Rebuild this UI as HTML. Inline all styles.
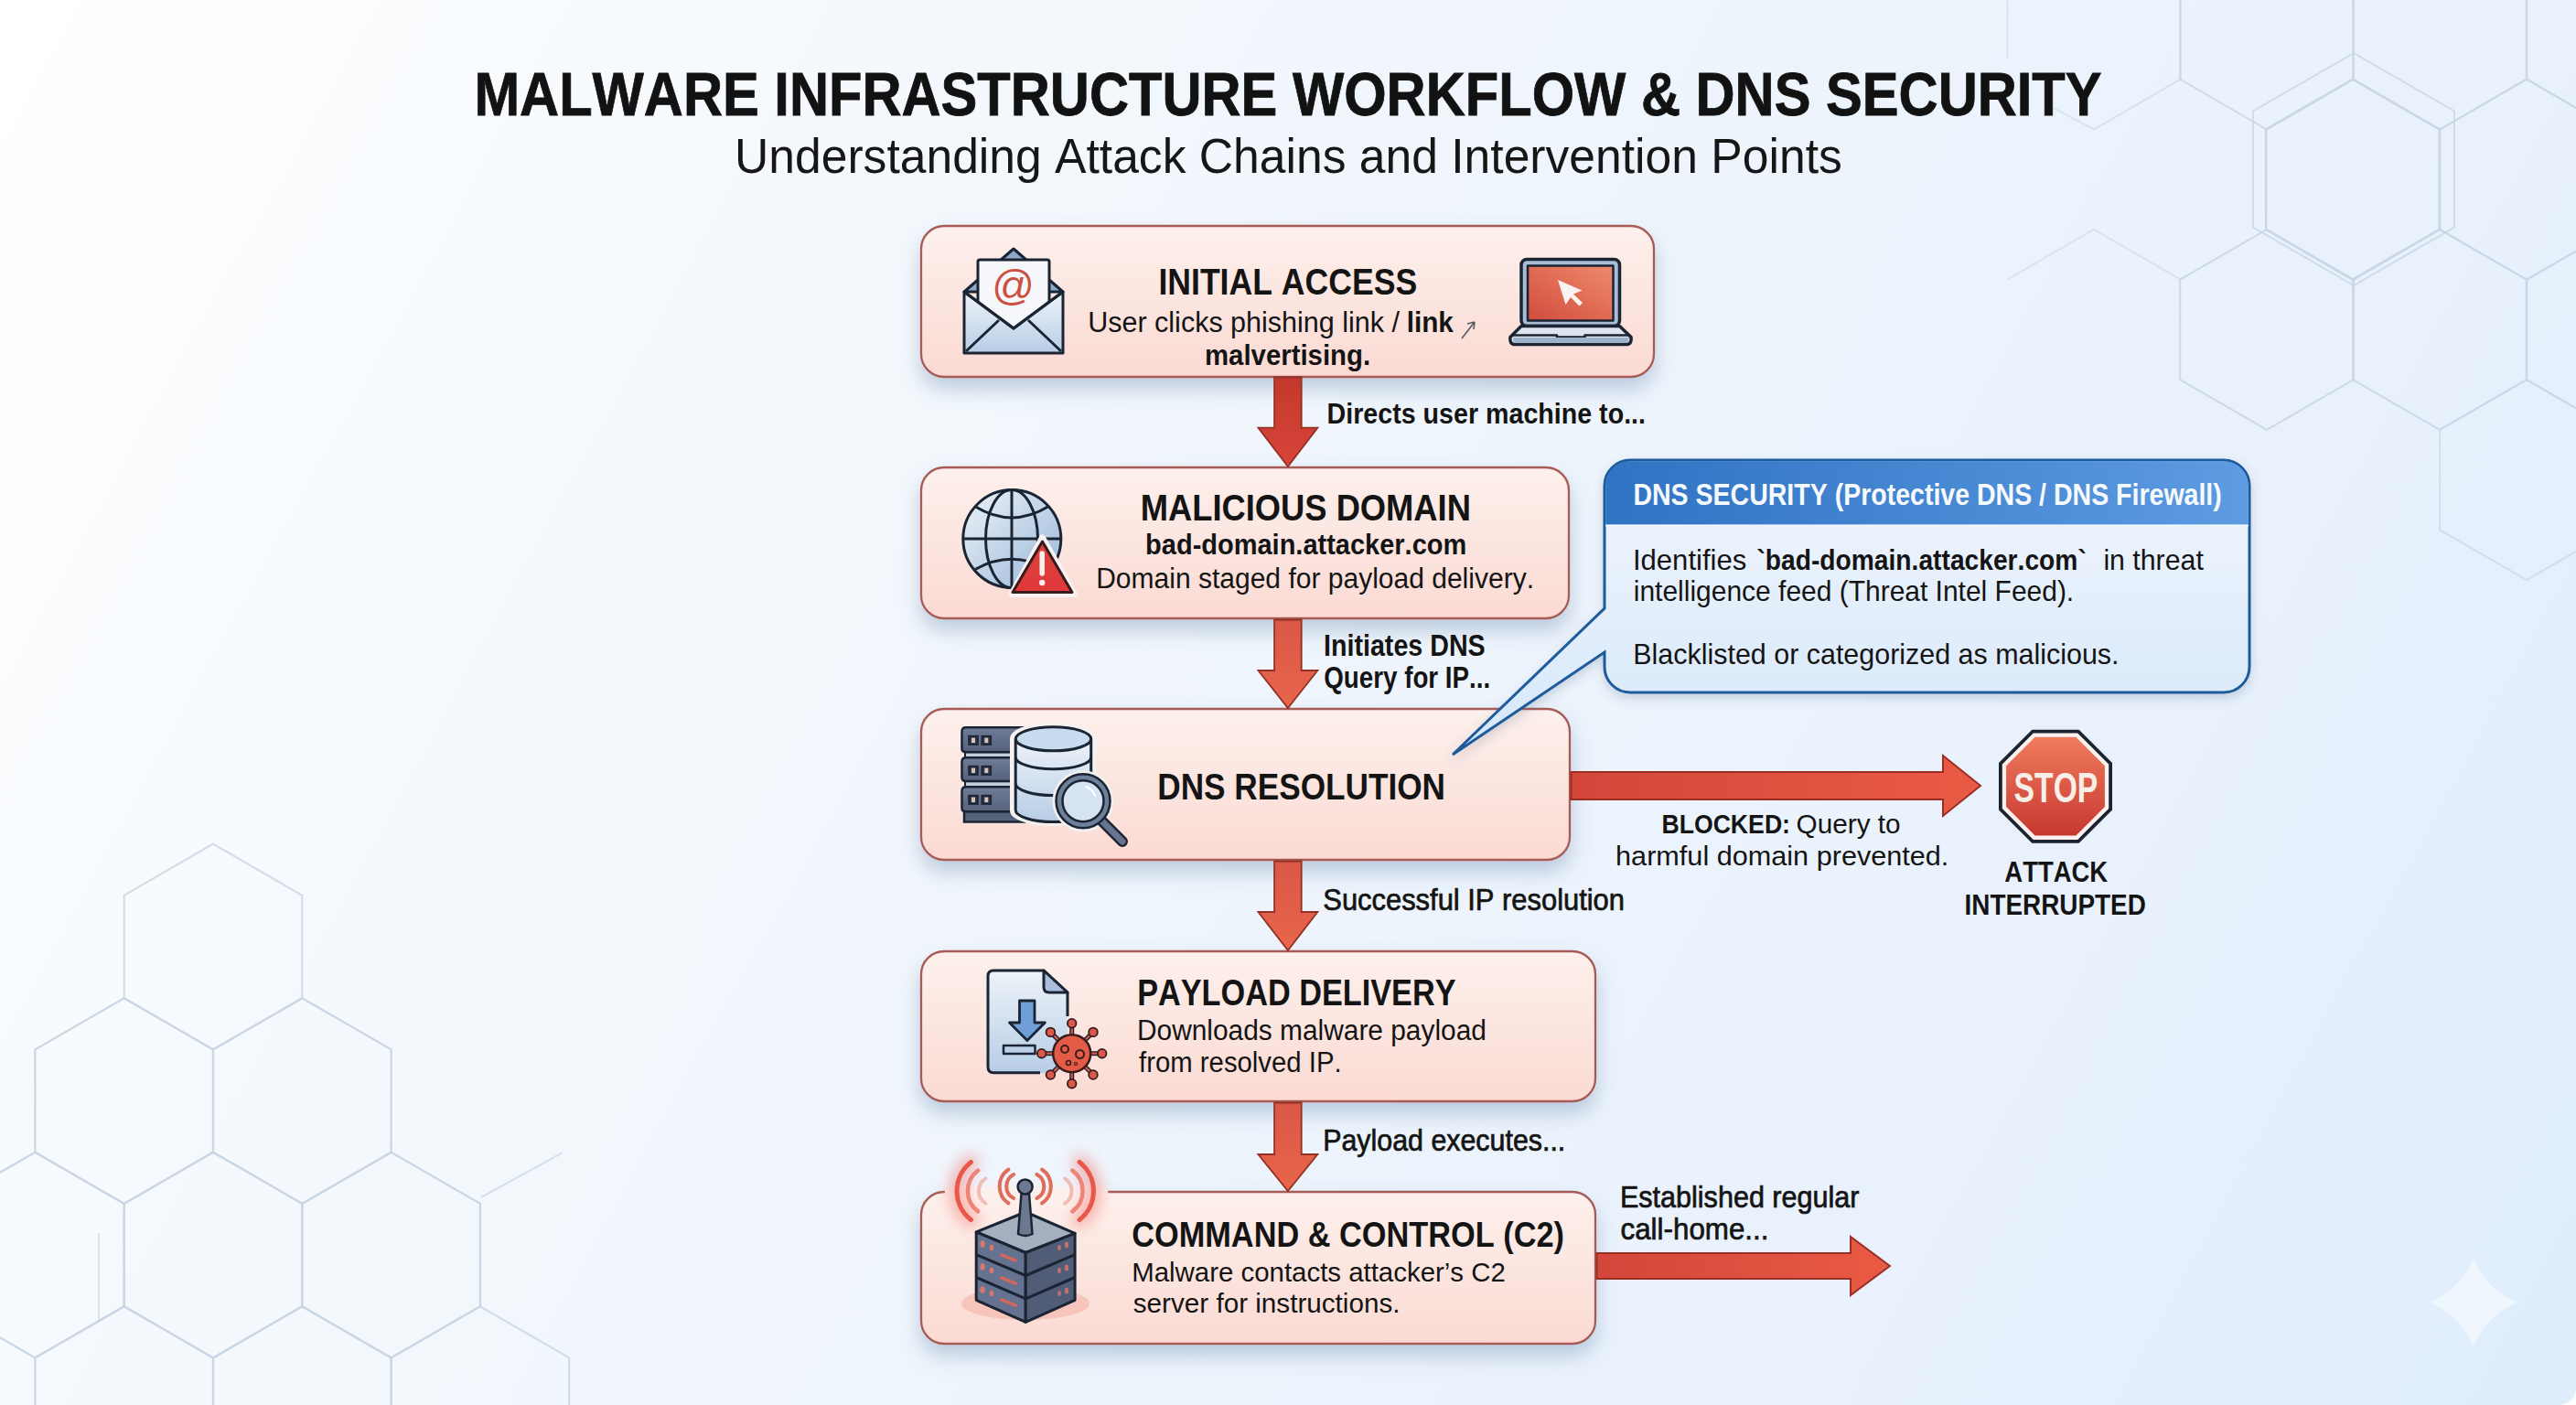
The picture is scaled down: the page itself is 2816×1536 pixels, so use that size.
<!DOCTYPE html>
<html><head><meta charset="utf-8">
<style>
html,body{margin:0;padding:0;width:2816px;height:1536px;overflow:hidden;background:#ffffff}
svg{display:block}
text{font-family:"Liberation Sans",sans-serif;font-kerning:none}
</style></head>
<body>
<svg width="2816" height="1536" viewBox="0 0 2816 1536">
<defs>
  <linearGradient id="bg" x1="0" y1="0" x2="2816" y2="1536" gradientUnits="userSpaceOnUse">
    <stop offset="0" stop-color="#ffffff"/>
    <stop offset="0.25" stop-color="#f5f9fd"/>
    <stop offset="0.5" stop-color="#eff5fc"/>
    <stop offset="0.77" stop-color="#e8f1fc"/>
    <stop offset="1" stop-color="#dfedfc"/>
  </linearGradient>
  <linearGradient id="boxfill" x1="0" y1="0" x2="0" y2="1">
    <stop offset="0" stop-color="#fdf0ec"/>
    <stop offset="1" stop-color="#fbdad3"/>
  </linearGradient>
  <linearGradient id="arrowV1" x1="0" y1="0" x2="0" y2="1">
    <stop offset="0" stop-color="#c3392c"/>
    <stop offset="1" stop-color="#d8443a"/>
  </linearGradient>
  <linearGradient id="arrowV" x1="0" y1="0" x2="0" y2="1">
    <stop offset="0" stop-color="#d95846"/>
    <stop offset="1" stop-color="#e9654c"/>
  </linearGradient>
  <linearGradient id="arrowH" x1="0" y1="0" x2="1" y2="0">
    <stop offset="0" stop-color="#d2473a"/>
    <stop offset="1" stop-color="#ea5b45"/>
  </linearGradient>
  <linearGradient id="calloutHead" x1="0" y1="0" x2="1" y2="0">
    <stop offset="0" stop-color="#2f73c3"/>
    <stop offset="1" stop-color="#5d9be2"/>
  </linearGradient>
  <linearGradient id="calloutBody" x1="0" y1="0" x2="0" y2="1">
    <stop offset="0" stop-color="#f1f6fd"/>
    <stop offset="1" stop-color="#d6e7fa"/>
  </linearGradient>
  <linearGradient id="stopFill" x1="0" y1="0" x2="0" y2="1">
    <stop offset="0" stop-color="#f07c5e"/>
    <stop offset="1" stop-color="#c6382f"/>
  </linearGradient>
  <linearGradient id="screenFill" x1="1" y1="0" x2="0" y2="1">
    <stop offset="0" stop-color="#ee8a6a"/>
    <stop offset="1" stop-color="#d24c3e"/>
  </linearGradient>
  <linearGradient id="iconBlue" x1="0" y1="0" x2="0" y2="1">
    <stop offset="0" stop-color="#eef3f9"/>
    <stop offset="1" stop-color="#b7cde6"/>
  </linearGradient>
  <linearGradient id="globeFill" x1="0" y1="0" x2="1" y2="1">
    <stop offset="0" stop-color="#eef3f8"/>
    <stop offset="1" stop-color="#97b6d8"/>
  </linearGradient>
  <linearGradient id="warnFill" x1="0" y1="0" x2="0" y2="1">
    <stop offset="0" stop-color="#d9423c"/>
    <stop offset="1" stop-color="#e1383a"/>
  </linearGradient>
  <linearGradient id="slate" x1="0" y1="0" x2="0" y2="1">
    <stop offset="0" stop-color="#6f7c97"/>
    <stop offset="1" stop-color="#56627b"/>
  </linearGradient>
  <radialGradient id="c2glow" cx="0.5" cy="0.5" r="0.5">
    <stop offset="0" stop-color="#f27a6c" stop-opacity="0.55"/>
    <stop offset="1" stop-color="#f27a6c" stop-opacity="0"/>
  </radialGradient>
  <filter id="shadow" x="-10%" y="-20%" width="120%" height="170%">
    <feGaussianBlur in="SourceAlpha" stdDeviation="11"/>
    <feOffset dx="0" dy="12" result="b"/>
    <feFlood flood-color="#5577a3" flood-opacity="0.34"/>
    <feComposite in2="b" operator="in"/>
    <feMerge><feMergeNode/><feMergeNode in="SourceGraphic"/></feMerge>
  </filter>
  <filter id="softshadow" x="-10%" y="-20%" width="120%" height="160%">
    <feGaussianBlur in="SourceAlpha" stdDeviation="6"/>
    <feOffset dx="0" dy="5" result="b"/>
    <feFlood flood-color="#4f6688" flood-opacity="0.25"/>
    <feComposite in2="b" operator="in"/>
    <feMerge><feMergeNode/><feMergeNode in="SourceGraphic"/></feMerge>
  </filter>
  <filter id="glow" x="-30%" y="-30%" width="160%" height="160%">
    <feGaussianBlur in="SourceGraphic" stdDeviation="4" result="g"/>
    <feMerge><feMergeNode in="g"/><feMergeNode in="SourceGraphic"/></feMerge>
  </filter>
  <filter id="blur8" x="-50%" y="-50%" width="200%" height="200%"><feGaussianBlur stdDeviation="8"/></filter>
  <filter id="blur3" x="-50%" y="-50%" width="200%" height="200%"><feGaussianBlur stdDeviation="3"/></filter>
</defs>

<rect x="0" y="0" width="2816" height="1536" fill="url(#bg)"/>
<g fill="none" stroke="#c9d6e5" stroke-width="2">
<path d="M2383.8 -22.7 L2383.8 86.7 M2383.8 86.7 L2289.0 141.5 " stroke-opacity="0.60" stroke-width="2.0"/>
<path d="M2194.5 0 L2194.5 65 M2245 118 L2289 141.5" stroke-opacity="0.5"/>
<path d="M2478.0 -77.5L2572.8 -22.7L2572.8 86.7L2478.0 141.5L2383.2 86.7L2383.2 -22.7Z" stroke-opacity="0.80" stroke-width="2.0"/>
<path d="M2667.0 -77.5L2761.8 -22.7L2761.8 86.7L2667.0 141.5L2572.2 86.7L2572.2 -22.7Z" stroke-opacity="0.80" stroke-width="2.0"/>
<path d="M2857.0 -77.5L2951.8 -22.7L2951.8 86.7L2857.0 141.5L2762.2 86.7L2762.2 -22.7Z" stroke-opacity="0.80" stroke-width="2.0"/>
<path d="M2572.0 86.7L2666.8 141.5L2666.8 250.9L2572.0 305.7L2477.2 250.9L2477.2 141.5Z" stroke-opacity="1.00" stroke-width="2.5"/>
<path d="M2762.0 86.7L2856.8 141.5L2856.8 250.9L2762.0 305.7L2667.2 250.9L2667.2 141.5Z" stroke-opacity="0.90" stroke-width="2.0"/>
<path d="M2194.2 305.7 L2289.0 250.9 M2289.0 250.9 L2383.8 305.7 " stroke-opacity="0.50" stroke-width="2.0"/>
<path d="M2478.0 250.9L2572.8 305.7L2572.8 415.1L2478.0 469.9L2383.2 415.1L2383.2 305.7Z" stroke-opacity="0.90" stroke-width="2.0"/>
<path d="M2667.0 250.9L2761.8 305.7L2761.8 415.1L2667.0 469.9L2572.2 415.1L2572.2 305.7Z" stroke-opacity="0.90" stroke-width="2.0"/>
<path d="M2857.0 250.9L2951.8 305.7L2951.8 415.1L2857.0 469.9L2762.2 415.1L2762.2 305.7Z" stroke-opacity="0.80" stroke-width="2.0"/>
<path d="M2762.0 415.1L2856.8 469.9L2856.8 579.3L2762.0 634.1L2667.2 579.3L2667.2 469.9Z" stroke-opacity="0.70" stroke-width="2.0"/>
<path d="M2573.0 58.0L2683.0 121.5L2683.0 248.5L2573.0 312.0L2463.0 248.5L2463.0 121.5Z" stroke-opacity="0.8" stroke-width="2"/>
<path d="M233.0 922.6L330.3 978.8L330.3 1091.2L233.0 1147.4L135.7 1091.2L135.7 978.8Z" stroke-opacity="0.80" stroke-width="2.2"/>
<path d="M135.7 1091.2L233.0 1147.4L233.0 1259.7L135.7 1315.9L38.4 1259.7L38.4 1147.4Z" stroke-opacity="1.00" stroke-width="2.2"/>
<path d="M330.3 1091.2L427.6 1147.4L427.6 1259.7L330.3 1315.9L233.0 1259.7L233.0 1147.4Z" stroke-opacity="1.00" stroke-width="2.2"/>
<path d="M38.4 1259.7L135.7 1315.9L135.7 1428.2L38.4 1484.4L-58.9 1428.2L-58.9 1315.9Z" stroke-opacity="1.00" stroke-width="2.2"/>
<path d="M233.0 1259.7L330.3 1315.9L330.3 1428.2L233.0 1484.4L135.7 1428.2L135.7 1315.9Z" stroke-opacity="1.00" stroke-width="2.2"/>
<path d="M427.6 1259.7L524.9 1315.9L524.9 1428.2L427.6 1484.4L330.3 1428.2L330.3 1315.9Z" stroke-opacity="1.00" stroke-width="2.2"/>
<path d="M135.7 1428.2L233.0 1484.4L233.0 1596.8L135.7 1652.9L38.4 1596.8L38.4 1484.4Z" stroke-opacity="1.00" stroke-width="2.2"/>
<path d="M330.3 1428.2L427.6 1484.4L427.6 1596.8L330.3 1652.9L233.0 1596.8L233.0 1484.4Z" stroke-opacity="1.00" stroke-width="2.2"/>
<path d="M524.9 1428.2L622.2 1484.4L622.2 1596.8L524.9 1652.9L427.6 1596.8L427.6 1484.4Z" stroke-opacity="0.80" stroke-width="2.2"/>
<path d="M526 1309 L615 1260" stroke-opacity="0.7"/>
<path d="M108 1348 L108 1445" stroke-opacity="0.6"/>
</g>
<g filter="url(#shadow)"><rect x="1007" y="247" width="801" height="165" rx="25" fill="url(#boxfill)" stroke="#a65b55" stroke-width="2.3"/><rect x="1007" y="511" width="708" height="165" rx="25" fill="url(#boxfill)" stroke="#a65b55" stroke-width="2.3"/><rect x="1007" y="775" width="709" height="165" rx="25" fill="url(#boxfill)" stroke="#a65b55" stroke-width="2.3"/><rect x="1007" y="1040" width="737" height="164" rx="25" fill="url(#boxfill)" stroke="#a65b55" stroke-width="2.3"/><rect x="1007" y="1303" width="737" height="166" rx="25" fill="url(#boxfill)" stroke="#a65b55" stroke-width="2.3"/></g>
<path d="M1393.1000000000001 412.5 L1422.7 412.5 L1422.7 467.6 L1440.4 467.6 L1407.9 510 L1375.4 467.6 L1393.1000000000001 467.6 Z" fill="url(#arrowV1)" stroke="#923126" stroke-width="1.8" stroke-linejoin="miter"/><path d="M1393.1000000000001 677.5 L1422.7 677.5 L1422.7 733 L1440.4 733 L1407.9 774 L1375.4 733 L1393.1000000000001 733 Z" fill="url(#arrowV)" stroke="#923126" stroke-width="1.8" stroke-linejoin="miter"/><path d="M1393.1000000000001 941.5 L1422.7 941.5 L1422.7 997 L1440.4 997 L1407.9 1039 L1375.4 997 L1393.1000000000001 997 Z" fill="url(#arrowV)" stroke="#923126" stroke-width="1.8" stroke-linejoin="miter"/><path d="M1393.1000000000001 1205.5 L1422.7 1205.5 L1422.7 1262 L1440.4 1262 L1407.9 1302 L1375.4 1262 L1393.1000000000001 1262 Z" fill="url(#arrowV)" stroke="#923126" stroke-width="1.8" stroke-linejoin="miter"/><path d="M1717.5 844.0 L2124 844.0 L2124 826.0 L2165 859 L2124 892.0 L2124 874.0 L1717.5 874.0 Z" fill="url(#arrowH)" stroke="#9b2e24" stroke-width="2" stroke-linejoin="miter"/><path d="M1745.5 1370.0 L2023 1370.0 L2023 1352.0 L2066 1384 L2023 1416.0 L2023 1398.0 L1745.5 1398.0 Z" fill="url(#arrowH)" stroke="#9b2e24" stroke-width="2" stroke-linejoin="miter"/>

<g filter="url(#softshadow)">
<path d="M1782 503 H2431 A28 28 0 0 1 2459 531 V729 A28 28 0 0 1 2431 757 H1782 A28 28 0 0 1 1754 729 V713 L1588 825 L1754 665 V531 A28 28 0 0 1 1782 503 Z" fill="url(#calloutBody)" stroke="#1f5c9c" stroke-width="3" stroke-linejoin="miter"/>
</g>
<path d="M1782 504.3 H2431 A26.7 26.7 0 0 1 2457.7 531 V573.5 H1755.3 V531 A26.7 26.7 0 0 1 1782 504.3 Z" fill="url(#calloutHead)"/>
<line x1="1755" y1="574.5" x2="2458" y2="574.5" stroke="#f4f8fd" stroke-width="1.5"/>


<g>
<polygon points="2221.3,797.7 2272.7,797.7 2309,834 2309,885.4 2272.7,921.7 2221.3,921.7 2185,885.4 2185,834" fill="#1b2230"/>
<polygon points="2222.8,801.5 2271.2,801.5 2305.2,835.5 2305.2,883.9 2271.2,917.9 2222.8,917.9 2188.8,883.9 2188.8,835.5" fill="#fbf1ee"/>
<polygon points="2224.6,805.8 2269.4,805.8 2300.9,837.3 2300.9,882.1 2269.4,913.6 2224.6,913.6 2193.1,882.1 2193.1,837.3" fill="url(#stopFill)"/>
</g>


<g id="email" stroke="#1a2433" stroke-width="3" stroke-linejoin="round">
  <path d="M1054 319 L1108 272 L1162 319 Z" fill="#8eaacb"/>
  <rect x="1069" y="284" width="78" height="80" rx="2" fill="#f6f7fa"/>
  <text x="1107.5" y="328" font-size="46" fill="#cc5040" stroke="none" text-anchor="middle">@</text>
  <path d="M1054 319 L1108 359 L1162 319 L1162 386 L1054 386 Z" fill="url(#iconBlue)"/>
  <path d="M1056 384 L1092 350 M1160 384 L1124 350" fill="none"/>
  <path d="M1054 319 L1108 359 L1162 319" fill="none"/>
</g>
<g id="laptop" stroke="#1a2433" stroke-linejoin="round">
  <rect x="1663" y="283.5" width="107.5" height="73" rx="6" fill="#a8bdd5" stroke-width="3.5"/>
  <rect x="1670" y="290.5" width="93.5" height="60" fill="url(#screenFill)" stroke-width="2.5"/>
  <path d="M1703 306 L1729.5 317.5 L1720 321.5 L1730 331 L1726.5 334.5 L1717 325 L1711.5 333 Z" fill="#fbf3ef" stroke="none"/>
  <path d="M1663 356.5 L1770.5 356.5 L1783 368.5 Q1784 376.5 1778 376.5 L1656 376.5 Q1650 376.5 1651 368.5 Z" fill="#dfe5ee" stroke-width="3.5"/>
  <path d="M1652 366.5 L1702 366.5 L1702 368.5 L1732.5 368.5 L1732.5 366.5 L1782 366.5" fill="none" stroke-width="2.5"/>
  <path d="M1654 369 L1781 369 L1779 375 L1655 375 Z" fill="#9cb2cb" stroke="none"/>
</g>
<g id="globe" stroke="#1a2433" fill="none" stroke-width="3">
  <circle cx="1106.3" cy="589.1" r="53.5" fill="url(#globeFill)"/>
  <line x1="1106" y1="535.6" x2="1106" y2="642.6"/>
  <line x1="1052.8" y1="589" x2="1159.8" y2="589"/>
  <ellipse cx="1106" cy="589.1" rx="28.5" ry="53.5"/>
  <path d="M1066 553.8 Q1106 578 1146 553.8"/>
  <path d="M1066 622.5 Q1106 600 1146 622.5"/>
  <path d="M1139.5 588 L1174.5 649.5 L1106 649.5 Z" fill="#f7f3f3" stroke="#f7f3f3" stroke-width="7" stroke-linejoin="round"/>
  <path d="M1139.5 592 L1172 647.5 L1107 647.5 Z" fill="url(#warnFill)" stroke="#3a1b1d" stroke-width="3" stroke-linejoin="round"/>
  <path d="M1139.2 605 L1139.2 627" stroke="#fbeeee" stroke-width="5.5" stroke-linecap="round"/>
  <circle cx="1139.2" cy="637" r="3.2" fill="#fbeeee" stroke="none"/>
</g>
<g id="dns">
  <rect x="1054" y="887" width="66" height="11.5" fill="#566279" stroke="#1a2433" stroke-width="2.5"/>
  <rect x="1055" y="822.2" width="65" height="6.1" fill="#c3cedc" stroke="#1a2433" stroke-width="2"/><rect x="1055" y="854.1" width="65" height="6.1" fill="#c3cedc" stroke="#1a2433" stroke-width="2"/>
  <path d="M1120 795.3 L1056 795.3 Q1051.5 795.3 1051.5 799.8 L1051.5 818.2 Q1051.5 822.2 1056 822.2 L1120 822.2" fill="url(#slate)" stroke="#1a2433" stroke-width="2.5"/><rect x="1059" y="804.6" width="10" height="9.5" fill="#2b3345" stroke="#1a2433" stroke-width="1.5"/><rect x="1062" y="806.6" width="4" height="5.5" fill="#d8c3b8" stroke="none"/><rect x="1073.3" y="804.6" width="10" height="9.5" fill="#2b3345" stroke="#1a2433" stroke-width="1.5"/><rect x="1076.3" y="806.6" width="4" height="5.5" fill="#d8c3b8" stroke="none"/><path d="M1120 828.3 L1056 828.3 Q1051.5 828.3 1051.5 832.8 L1051.5 850.1 Q1051.5 854.1 1056 854.1 L1120 854.1" fill="url(#slate)" stroke="#1a2433" stroke-width="2.5"/><rect x="1059" y="837.6" width="10" height="9.5" fill="#2b3345" stroke="#1a2433" stroke-width="1.5"/><rect x="1062" y="839.6" width="4" height="5.5" fill="#d8c3b8" stroke="none"/><rect x="1073.3" y="837.6" width="10" height="9.5" fill="#2b3345" stroke="#1a2433" stroke-width="1.5"/><rect x="1076.3" y="839.6" width="4" height="5.5" fill="#d8c3b8" stroke="none"/><path d="M1120 860.3 L1056 860.3 Q1051.5 860.3 1051.5 864.8 L1051.5 883.2 Q1051.5 887.2 1056 887.2 L1120 887.2" fill="url(#slate)" stroke="#1a2433" stroke-width="2.5"/><rect x="1059" y="869.6" width="10" height="9.5" fill="#2b3345" stroke="#1a2433" stroke-width="1.5"/><rect x="1062" y="871.6" width="4" height="5.5" fill="#d8c3b8" stroke="none"/><rect x="1073.3" y="869.6" width="10" height="9.5" fill="#2b3345" stroke="#1a2433" stroke-width="1.5"/><rect x="1076.3" y="871.6" width="4" height="5.5" fill="#d8c3b8" stroke="none"/>
  <path d="M1106 807.8 L1106 886 A45 15 0 0 0 1196.7 886 L1196.7 807.8 A45 16 0 0 0 1106 807.8 Z" fill="#f4f1f0" stroke="#f4f1f0" stroke-width="4"/>
  <path d="M1110.2 807.8 L1110.2 885.5 A41.2 13 0 0 0 1192.7 885.5 L1192.7 807.8" fill="url(#iconBlue)" stroke="#1a2433" stroke-width="3"/>
  <path d="M1110.2 827.7 A41.2 13 0 0 0 1192.7 827.7 M1110.2 856.6 A41.2 13 0 0 0 1192.7 856.6" fill="none" stroke="#1a2433" stroke-width="3"/>
  <ellipse cx="1151.5" cy="807.8" rx="41.2" ry="13" fill="#c7dcef" stroke="#1a2433" stroke-width="3"/>
  <circle cx="1184" cy="875.8" r="33.5" fill="#f4f1f1" stroke="none"/>
  <path d="M1203 896 L1227 920" stroke="#1a2433" stroke-width="12" stroke-linecap="round"/>
  <path d="M1203 896 L1227 920" stroke="#67748d" stroke-width="7" stroke-linecap="round"/>
  <circle cx="1184" cy="875.8" r="26" fill="#d6e4f2" stroke="#6d7f99" stroke-width="7"/>
  <circle cx="1184" cy="875.8" r="29.5" fill="none" stroke="#1a2433" stroke-width="2.5"/>
  <circle cx="1184" cy="875.8" r="22.5" fill="none" stroke="#1a2433" stroke-width="2.5"/>
  <path d="M1187 860 Q1195 863 1197 870" stroke="#ffffff" stroke-width="2" fill="none" stroke-linecap="round"/>
</g>
<g id="payload" stroke="#1a2433" stroke-linejoin="round">
  <path d="M1086 1061 L1141 1061 L1167 1085 L1167 1150 L1150 1172.8 L1086 1172.8 Q1080 1172.8 1080 1166 L1080 1067 Q1080 1061 1086 1061 Z" fill="url(#iconBlue)" stroke="none"/>
  <path d="M1167 1111 L1167 1085 L1141 1061 L1086 1061 Q1080 1061 1080 1067 L1080 1166 Q1080 1172.8 1086 1172.8 L1137 1172.8" fill="none" stroke-width="3"/>
  <path d="M1141 1061 L1141 1079 Q1141 1085 1147 1085 L1167 1085 Z" fill="#a9bfdc" stroke-width="3"/>
  <path d="M1114.5 1094 L1131 1094 L1131 1118 L1142.3 1118 L1122.9 1137.5 L1103.5 1118 L1114.5 1118 Z" fill="#6f9fd6" stroke-width="2.8"/>
  <rect x="1097" y="1143" width="34.5" height="9" fill="#bcd0e8" stroke-width="2.5"/>
  <line x1="1171.7" y1="1132.7" x2="1171.7" y2="1120.7" stroke="#1a2433" stroke-width="5"/><line x1="1171.7" y1="1132.7" x2="1171.7" y2="1120.7" stroke="#d9594a" stroke-width="2.2"/><circle cx="1171.7" cy="1118.7" r="4.8" fill="#d9594a" stroke="#3a1c1c" stroke-width="1.8"/><line x1="1185.1" y1="1138.3" x2="1193.6" y2="1129.8" stroke="#1a2433" stroke-width="5"/><line x1="1185.1" y1="1138.3" x2="1193.6" y2="1129.8" stroke="#d9594a" stroke-width="2.2"/><circle cx="1195.0" cy="1128.4" r="4.8" fill="#d9594a" stroke="#3a1c1c" stroke-width="1.8"/><line x1="1190.7" y1="1151.7" x2="1202.7" y2="1151.7" stroke="#1a2433" stroke-width="5"/><line x1="1190.7" y1="1151.7" x2="1202.7" y2="1151.7" stroke="#d9594a" stroke-width="2.2"/><circle cx="1204.7" cy="1151.7" r="4.8" fill="#d9594a" stroke="#3a1c1c" stroke-width="1.8"/><line x1="1185.1" y1="1165.1" x2="1193.6" y2="1173.6" stroke="#1a2433" stroke-width="5"/><line x1="1185.1" y1="1165.1" x2="1193.6" y2="1173.6" stroke="#d9594a" stroke-width="2.2"/><circle cx="1195.0" cy="1175.0" r="4.8" fill="#d9594a" stroke="#3a1c1c" stroke-width="1.8"/><line x1="1171.7" y1="1170.7" x2="1171.7" y2="1182.7" stroke="#1a2433" stroke-width="5"/><line x1="1171.7" y1="1170.7" x2="1171.7" y2="1182.7" stroke="#d9594a" stroke-width="2.2"/><circle cx="1171.7" cy="1184.7" r="4.8" fill="#d9594a" stroke="#3a1c1c" stroke-width="1.8"/><line x1="1158.3" y1="1165.1" x2="1149.8" y2="1173.6" stroke="#1a2433" stroke-width="5"/><line x1="1158.3" y1="1165.1" x2="1149.8" y2="1173.6" stroke="#d9594a" stroke-width="2.2"/><circle cx="1148.4" cy="1175.0" r="4.8" fill="#d9594a" stroke="#3a1c1c" stroke-width="1.8"/><line x1="1152.7" y1="1151.7" x2="1140.7" y2="1151.7" stroke="#1a2433" stroke-width="5"/><line x1="1152.7" y1="1151.7" x2="1140.7" y2="1151.7" stroke="#d9594a" stroke-width="2.2"/><circle cx="1138.7" cy="1151.7" r="4.8" fill="#d9594a" stroke="#3a1c1c" stroke-width="1.8"/><line x1="1158.3" y1="1138.3" x2="1149.8" y2="1129.8" stroke="#1a2433" stroke-width="5"/><line x1="1158.3" y1="1138.3" x2="1149.8" y2="1129.8" stroke="#d9594a" stroke-width="2.2"/><circle cx="1148.4" cy="1128.4" r="4.8" fill="#d9594a" stroke="#3a1c1c" stroke-width="1.8"/>
  <circle cx="1171.7" cy="1151.7" r="20.5" fill="#e25c48" stroke="#3a1c1c" stroke-width="2.5"/>
  <circle cx="1164" cy="1147" r="4" fill="none" stroke="#3a1c1c" stroke-width="2"/>
  <circle cx="1180.5" cy="1152.5" r="4.5" fill="none" stroke="#3a1c1c" stroke-width="2"/>
  <circle cx="1168" cy="1162" r="2.5" fill="none" stroke="#3a1c1c" stroke-width="1.5"/>
  <circle cx="1176" cy="1163" r="1.5" fill="none" stroke="#3a1c1c" stroke-width="1.2"/>
</g>
<g id="c2">
  <rect x="1036" y="1296" width="172" height="16" fill="#fcf0ed" filter="url(#blur3)"/><rect x="1033" y="1300" width="178" height="8" fill="#fcf0ed"/>
  <g filter="url(#blur8)" opacity="0.8"><path d="M1061.4 1270.5 A40 40 0 0 0 1061.4 1333.5" stroke="#f0584a" stroke-opacity="0.55" stroke-width="16" fill="none" stroke-linecap="round"/><path d="M1180.1 1270.5 A40 40 0 0 1 1180.1 1333.5" stroke="#f0584a" stroke-opacity="0.55" stroke-width="16" fill="none" stroke-linecap="round"/></g>
  <ellipse cx="1121" cy="1425" rx="70" ry="18" fill="#f4b2a6" opacity="0.6"/>
  <path d="M1061.4 1270.5 A40 40 0 0 0 1061.4 1333.5" stroke="#e9574a" stroke-opacity="1.0" stroke-width="5" fill="none" stroke-linecap="round"/><path d="M1069.1 1279.6 A28 28 0 0 0 1069.1 1324.4" stroke="#ec7466" stroke-opacity="0.85" stroke-width="4.5" fill="none" stroke-linecap="round"/><path d="M1077.5 1288.4 A16 16 0 0 0 1077.5 1315.6" stroke="#eea59b" stroke-opacity="0.7" stroke-width="4" fill="none" stroke-linecap="round"/><path d="M1102.5 1278.5 A22.3 22.3 0 0 0 1102.5 1315.5" stroke="#dc6555" stroke-opacity="0.95" stroke-width="4" fill="none" stroke-linecap="round"/><path d="M1108.1 1283.9 A14.8 14.8 0 0 0 1108.1 1310.1" stroke="#dc6555" stroke-opacity="0.95" stroke-width="4" fill="none" stroke-linecap="round"/><path d="M1180.1 1270.5 A40 40 0 0 1 1180.1 1333.5" stroke="#e9574a" stroke-opacity="1.0" stroke-width="5" fill="none" stroke-linecap="round"/><path d="M1172.4 1279.6 A28 28 0 0 1 1172.4 1324.4" stroke="#ec7466" stroke-opacity="0.85" stroke-width="4.5" fill="none" stroke-linecap="round"/><path d="M1164.0 1288.4 A16 16 0 0 1 1164.0 1315.6" stroke="#eea59b" stroke-opacity="0.7" stroke-width="4" fill="none" stroke-linecap="round"/><path d="M1139.0 1278.5 A22.3 22.3 0 0 1 1139.0 1315.5" stroke="#dc6555" stroke-opacity="0.95" stroke-width="4" fill="none" stroke-linecap="round"/><path d="M1133.4 1283.9 A14.8 14.8 0 0 1 1133.4 1310.1" stroke="#dc6555" stroke-opacity="0.95" stroke-width="4" fill="none" stroke-linecap="round"/>
  <path d="M1067.2 1346.9 L1121.2 1325 L1175.1 1348.3 L1121.2 1369.5 Z" fill="#a4afbf" stroke="#1a2433" stroke-width="3" stroke-linejoin="round"/>
  <path d="M1067.2 1346.9 L1121.2 1369.5 L1121.2 1445.3 L1067.2 1421.3 Z" fill="#667390" stroke="#1a2433" stroke-width="3" stroke-linejoin="round"/>
  <path d="M1121.2 1369.5 L1175.1 1348.3 L1175.1 1421.3 L1121.2 1445.3 Z" fill="#515d76" stroke="#1a2433" stroke-width="3" stroke-linejoin="round"/>
  <path d="M1067.2 1371.7 L1121.2 1394.5 L1175.1 1371.7 M1067.2 1396.5 L1121.2 1419.8 L1175.1 1396.5" fill="none" stroke="#1a2433" stroke-width="3"/>
  <g fill="#d9776c">
    <ellipse cx="1074" cy="1360" rx="2.8" ry="3.8"/><ellipse cx="1084" cy="1364" rx="2.3" ry="3.2"/>
    <ellipse cx="1074" cy="1385" rx="2.8" ry="3.8"/><ellipse cx="1084" cy="1389" rx="2.3" ry="3.2"/>
    <ellipse cx="1074" cy="1410" rx="2.8" ry="3.8"/><ellipse cx="1084" cy="1414" rx="2.3" ry="3.2"/>
  </g>
  <g stroke="#d9665a" stroke-width="3.5" stroke-linecap="round">
    <line x1="1095" y1="1372" x2="1110" y2="1378"/><line x1="1095" y1="1397" x2="1110" y2="1403"/><line x1="1095" y1="1421" x2="1110" y2="1427"/>
  </g>
  <g fill="#d9776c" opacity="0.8">
    <ellipse cx="1158" cy="1364" rx="1.8" ry="3"/><ellipse cx="1166" cy="1361" rx="2.2" ry="3.5"/>
    <ellipse cx="1158" cy="1389" rx="1.8" ry="3"/><ellipse cx="1166" cy="1386" rx="2.2" ry="3.5"/>
    <ellipse cx="1158" cy="1414" rx="1.8" ry="3"/><ellipse cx="1166" cy="1411" rx="2.2" ry="3.5"/>
  </g>
  <path d="M1113 1349 L1116.5 1305 L1125 1305 L1128.5 1349 Q1121 1353 1113 1349 Z" fill="#6d7990" stroke="#1a2433" stroke-width="2.5"/>
  <circle cx="1120.6" cy="1297.4" r="8" fill="#6d7990" stroke="#1a2433" stroke-width="2.5"/>
</g>
<path d="M1598 370 L1612 352 M1612 352 L1604 354 M1612 352 L1611 360" stroke="#555c66" stroke-width="1.6" fill="none"/>
<text x="518.4" y="125.6" font-size="67.2" font-weight="bold" fill="#121212" textLength="1779.2" lengthAdjust="spacingAndGlyphs" stroke="#121212" stroke-width="0.8">MALWARE INFRASTRUCTURE WORKFLOW &amp; DNS SECURITY</text><text x="803.0" y="189.0" font-size="53.0" fill="#161616" textLength="1210.8" lengthAdjust="spacingAndGlyphs">Understanding Attack Chains and Intervention Points</text><text x="1266.4" y="321.8" font-size="41.5" font-weight="bold" fill="#141414" textLength="282.8" lengthAdjust="spacingAndGlyphs">INITIAL ACCESS</text><text x="1189.2" y="362.9" font-size="31.0" fill="#141414" textLength="340.8" lengthAdjust="spacingAndGlyphs">User clicks phishing link /</text><text x="1537.7" y="362.9" font-size="31.0" font-weight="bold" fill="#141414" textLength="51.2" lengthAdjust="spacingAndGlyphs">link</text><text x="1317.0" y="398.6" font-size="31.0" font-weight="bold" fill="#141414" textLength="181.1" lengthAdjust="spacingAndGlyphs">malvertising.</text><text x="1246.8" y="568.8" font-size="40.0" font-weight="bold" fill="#141414" textLength="361.1" lengthAdjust="spacingAndGlyphs">MALICIOUS DOMAIN</text><text x="1252.1" y="606.0" font-size="31.5" font-weight="bold" fill="#141414" textLength="351.2" lengthAdjust="spacingAndGlyphs">bad-domain.attacker.com</text><text x="1198.2" y="642.6" font-size="31.0" fill="#141414" textLength="478.8" lengthAdjust="spacingAndGlyphs">Domain staged for payload delivery.</text><text x="1265.3" y="873.7" font-size="41.5" font-weight="bold" fill="#141414" textLength="314.7" lengthAdjust="spacingAndGlyphs">DNS RESOLUTION</text><text x="1243.2" y="1098.8" font-size="40.7" font-weight="bold" fill="#141414" textLength="348.3" lengthAdjust="spacingAndGlyphs">PAYLOAD DELIVERY</text><text x="1243.0" y="1136.7" font-size="31.0" fill="#141414" textLength="381.9" lengthAdjust="spacingAndGlyphs">Downloads malware payload</text><text x="1245.1" y="1171.6" font-size="31.0" fill="#141414" textLength="221.5" lengthAdjust="spacingAndGlyphs">from resolved IP.</text><text x="1237.2" y="1363.1" font-size="38.7" font-weight="bold" fill="#141414" textLength="472.8" lengthAdjust="spacingAndGlyphs">COMMAND &amp; CONTROL (C2)</text><text x="1237.2" y="1401.1" font-size="30.0" fill="#141414" textLength="408.6" lengthAdjust="spacingAndGlyphs">Malware contacts attacker’s C2</text><text x="1238.8" y="1434.5" font-size="30.0" fill="#141414" textLength="291.7" lengthAdjust="spacingAndGlyphs">server for instructions.</text><text x="1450.6" y="462.8" font-size="32.0" font-weight="bold" fill="#141414" textLength="348.4" lengthAdjust="spacingAndGlyphs">Directs user machine to...</text><text x="1447.0" y="717.3" font-size="33.0" font-weight="bold" fill="#141414" textLength="176.7" lengthAdjust="spacingAndGlyphs">Initiates DNS</text><text x="1447.3" y="752.2" font-size="33.0" font-weight="bold" fill="#141414" textLength="181.9" lengthAdjust="spacingAndGlyphs">Query for IP...</text><text x="1446.3" y="995.0" font-size="32.9" fill="#141414" textLength="329.7" lengthAdjust="spacingAndGlyphs" stroke="#141414" stroke-width="0.7">Successful IP resolution</text><text x="1446.2" y="1257.5" font-size="32.4" fill="#141414" textLength="265.1" lengthAdjust="spacingAndGlyphs" stroke="#141414" stroke-width="0.7">Payload executes...</text><text x="1770.9" y="1319.7" font-size="33.5" fill="#141414" textLength="261.6" lengthAdjust="spacingAndGlyphs" stroke="#141414" stroke-width="0.7">Established regular</text><text x="1771.5" y="1354.9" font-size="33.5" fill="#141414" textLength="162.0" lengthAdjust="spacingAndGlyphs" stroke="#141414" stroke-width="0.7">call-home...</text><text x="1785.4" y="551.7" font-size="32.8" font-weight="bold" fill="#f7fafd" textLength="643.4" lengthAdjust="spacingAndGlyphs">DNS SECURITY (Protective DNS / DNS Firewall)</text><text x="1784.9" y="623.0" font-size="32.0" fill="#141414" textLength="124.4" lengthAdjust="spacingAndGlyphs">Identifies</text><text x="1920.4" y="623.0" font-size="32.0" font-weight="bold" fill="#141414" textLength="360.4" lengthAdjust="spacingAndGlyphs">`bad-domain.attacker.com`</text><text x="2299.4" y="623.0" font-size="32.0" fill="#141414" textLength="109.4" lengthAdjust="spacingAndGlyphs">in threat</text><text x="1785.8" y="657.3" font-size="32.0" fill="#141414" textLength="481.4" lengthAdjust="spacingAndGlyphs">intelligence feed (Threat Intel Feed).</text><text x="1785.3" y="725.8" font-size="32.0" fill="#141414" textLength="531.2" lengthAdjust="spacingAndGlyphs">Blacklisted or categorized as malicious.</text><text x="1816.4" y="911.4" font-size="29.0" font-weight="bold" fill="#141414" textLength="140.6" lengthAdjust="spacingAndGlyphs">BLOCKED:</text><text x="1963.6" y="911.4" font-size="29.0" fill="#141414" textLength="114.0" lengthAdjust="spacingAndGlyphs">Query to</text><text x="1766.1" y="946.4" font-size="29.0" fill="#141414" textLength="364.3" lengthAdjust="spacingAndGlyphs">harmful domain prevented.</text><text x="2191.3" y="964.3" font-size="30.5" font-weight="bold" fill="#141414" textLength="112.9" lengthAdjust="spacingAndGlyphs">ATTACK</text><text x="2147.6" y="1000.0" font-size="30.5" font-weight="bold" fill="#141414" textLength="198.2" lengthAdjust="spacingAndGlyphs">INTERRUPTED</text><text x="2201.6" y="876.8" font-size="47.0" font-weight="bold" fill="#f8efe8" textLength="91.7" lengthAdjust="spacingAndGlyphs">STOP</text>
<path d="M2703.8 1376 Q2718.4 1409.2 2751.7 1423.8 Q2718.4 1438.4 2703.8 1471.7 Q2689.2 1438.4 2656 1423.8 Q2689.2 1409.2 2703.8 1376 Z" fill="#eff6fe"/>
<path d="M2816 1517.5 A18.5 18.5 0 0 1 2797.5 1536 L2816 1536 Z" fill="#ffffff"/>
</svg>
</body></html>
